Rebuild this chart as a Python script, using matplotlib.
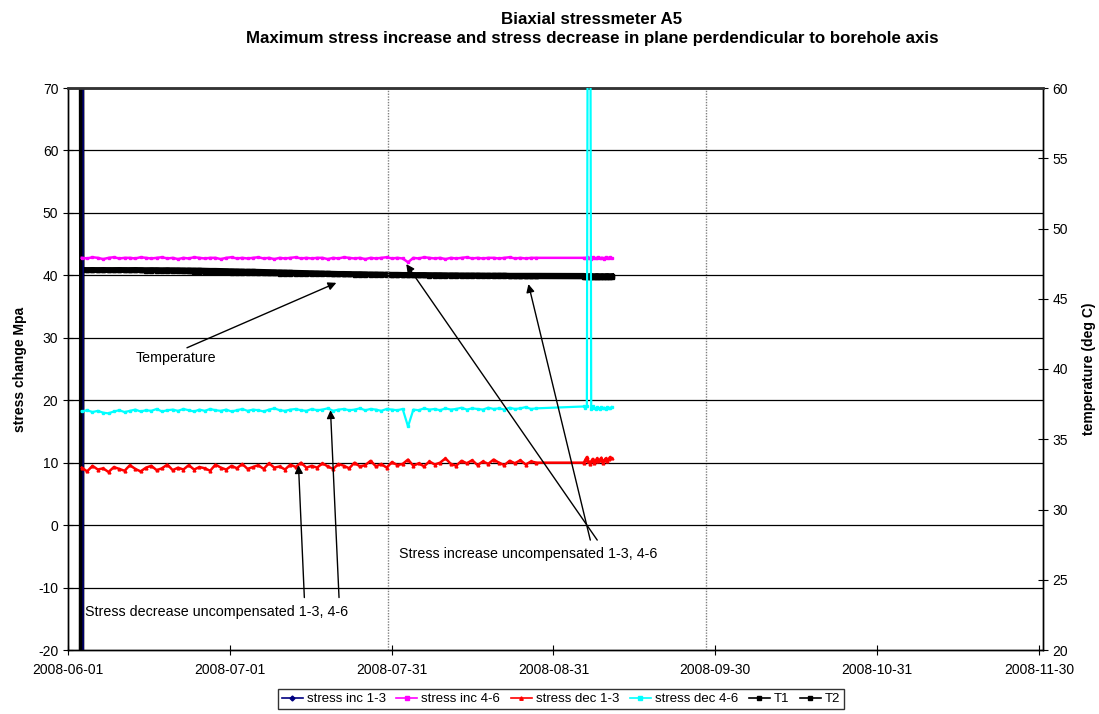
import numpy as np
import pandas as pd
import matplotlib
matplotlib.use("Agg")
import matplotlib.pyplot as plt
import matplotlib.dates as mdates

plt.rcParams['font.family'] = ['Liberation Sans', 'DejaVu Sans']
plt.rcParams['axes.unicode_minus'] = False

# ---------------- data ----------------
seg1_start, seg1_end = "2008-06-03 14:00", "2008-08-27 19:00"
seg2_start, seg2_end = "2008-09-05 17:00", "2008-09-10 21:00"

inc46_seg1 = [42.8,42.7,42.9,42.8,42.6,42.8,42.9,42.7,42.8,42.8,42.7,42.9,42.8,42.7,42.8,42.9,42.7,42.8,42.6,42.8,
              42.7,42.9,42.8,42.7,42.8,42.8,42.6,42.8,42.9,42.7,42.8,42.7,42.8,42.9,42.7,42.8,42.6,42.8,42.7,42.8,
              42.9,42.7,42.8,42.7,42.8,42.8,42.6,42.8,42.7,42.9,42.8,42.7,42.8,42.6,42.8,42.7,42.8,42.9,42.7,42.8,
              42.7,42.1,42.8,42.7,42.9,42.8,42.7,42.8,42.6,42.8,42.7,42.8,42.9,42.7,42.8,42.7,42.8,42.8,42.7,42.8,
              42.9,42.7,42.8,42.7,42.8,42.8]
inc46_seg2 = [42.8,42.7,42.9,42.7,42.8,42.6,42.9,42.8,42.7,42.8,42.9,42.7,42.8,42.8,42.6,42.9,42.7,42.8,42.9,42.7]

dec46_seg1 = [18.2,18.4,18.1,18.3,18.0,17.9,18.2,18.4,18.1,18.3,18.5,18.2,18.4,18.3,18.6,18.2,18.4,18.5,18.3,18.6,
              18.4,18.2,18.5,18.3,18.6,18.4,18.3,18.5,18.2,18.4,18.6,18.3,18.5,18.4,18.2,18.5,18.7,18.4,18.3,18.5,
              18.6,18.4,18.3,18.6,18.4,18.5,18.7,18.3,18.5,18.6,18.4,18.5,18.7,18.4,18.6,18.5,18.3,18.6,18.5,18.4,
              18.6,15.8,18.5,18.4,18.7,18.5,18.6,18.4,18.7,18.5,18.6,18.8,18.5,18.7,18.6,18.5,18.8,18.6,18.7,18.5,
              18.8,18.6,18.7,18.9,18.6,18.7]
dec46_seg2 = [19.0,18.8,19.1,130.0,130.0,18.6,19.0,18.8,18.6,18.9,18.7,18.6,18.9,18.7,18.8,18.6,18.9,18.8,18.7,18.9]

dec13_seg1 = [9.2,8.6,9.5,8.9,9.1,8.5,9.3,9.0,8.7,9.6,9.0,8.6,9.2,9.5,8.8,9.1,9.7,8.8,9.2,8.9,
              9.6,8.9,9.3,9.1,8.7,9.7,9.2,8.9,9.5,9.1,9.8,9.0,9.3,9.6,9.0,9.9,9.2,9.4,8.9,9.7,
              9.3,10.0,9.2,9.5,9.2,9.9,9.4,9.0,9.8,9.5,9.1,10.0,9.4,9.6,10.3,9.4,9.8,9.2,10.1,9.6,
              9.8,10.5,9.5,9.9,9.4,10.2,9.7,10.0,10.7,9.8,9.5,10.3,9.9,10.4,9.6,10.2,9.8,10.5,10.0,9.6,
              10.3,9.9,10.4,9.7,10.2,10.0]
dec13_seg2 = [10.0,10.5,10.9,10.3,9.8,10.2,10.6,9.9,10.3,10.7,10.2,10.5,10.8,9.9,10.4,10.7,10.2,10.6,10.9,10.7]

t1_seg1 = [47.06,47.05,47.06,47.05,47.06,47.05,47.05,47.06,47.05,47.05,47.06,47.05,47.04,47.05,47.05,47.04,47.05,47.04,47.04,47.03,
           47.03,47.02,47.02,47.01,47.00,47.00,46.99,46.98,46.97,46.96,46.95,46.94,46.94,46.93,46.92,46.91,46.90,46.89,46.88,46.87,
           46.86,46.85,46.84,46.83,46.82,46.81,46.80,46.79,46.78,46.78,46.77,46.76,46.76,46.75,46.74,46.74,46.73,46.73,46.72,46.72,
           46.71,46.71,46.70,46.70,46.70,46.69,46.69,46.69,46.68,46.68,46.68,46.67,46.67,46.67,46.67,46.66,46.66,46.66,46.66,46.66,
           46.65,46.65,46.65,46.65,46.65,46.65]
t2_seg1 = [47.04,47.03,47.04,47.03,47.04,47.03,47.03,47.04,47.03,47.02,47.03,47.02,47.01,47.01,47.00,46.99,46.98,46.97,46.96,46.95,
           46.94,46.93,46.92,46.91,46.90,46.89,46.88,46.87,46.86,46.85,46.84,46.83,46.82,46.81,46.81,46.80,46.80,46.79,46.79,46.78,
           46.78,46.77,46.77,46.76,46.76,46.75,46.75,46.74,46.74,46.73,46.73,46.72,46.72,46.71,46.71,46.70,46.70,46.69,46.69,46.68,
           46.68,46.67,46.67,46.66,46.66,46.65,46.65,46.64,46.64,46.63,46.63,46.62,46.62,46.62,46.61,46.61,46.61,46.60,46.60,46.60,
           46.60,46.60,46.59,46.59,46.59,46.59]
t1_seg2 = [46.64,46.62,46.63,46.61,46.62,46.63,46.62,46.61,46.62,46.63,46.62,46.61,46.62,46.62,46.61,46.62,46.63,46.62,46.61,46.62]
t2_seg2 = [46.58,46.57,46.58,46.56,46.57,46.58,46.57,46.56,46.57,46.58,46.57,46.56,46.57,46.57,46.56,46.57,46.58,46.57,46.56,46.57]

# initial off-scale readings at instrument start
start_time = "2008-06-03 12:00"
t1_start, t2_start = 0.0, 80.0
inc13_dates = ["2008-06-03 20:00", "2008-06-03 20:30"]
inc13_values = [-80.0, 150.0]

tick_labels = ["2008-06-01", "2008-07-01", "2008-07-31", "2008-08-31",
               "2008-09-30", "2008-10-31", "2008-11-30"]
marker_lines = ["2008-07-31", "2008-09-28 12:00"]

def series(v1, v2):
    d1 = pd.date_range(seg1_start, seg1_end, periods=len(v1))
    d2 = pd.date_range(seg2_start, seg2_end, periods=len(v2))
    return d1.append(d2), list(v1) + list(v2)

# ---------------- figure ----------------
fig = plt.figure(figsize=(10.99, 7.14), dpi=100)
ax = fig.add_axes([68/1099, 64/714, (1043-68)/1099, (650-88)/714])
ax2 = ax.twinx()

x0 = pd.Timestamp("2008-06-01")
xmax = pd.Timestamp("2008-11-30 18:00")

for m in marker_lines:
    ax.axvline(pd.Timestamp(m), color='#808080', lw=1.0, ls=(0, (1, 1)), zorder=1)
for yv in range(-10, 71, 10):
    ax.axhline(yv, color='black', lw=0.9, zorder=1)

ms = 2.0
l_inc13, = ax.plot(pd.to_datetime(inc13_dates), inc13_values, color='#000080', lw=1.0,
                   marker='D', ms=ms, zorder=2, label='stress inc 1-3')
d, v = series(inc46_seg1, inc46_seg2)
l_inc46, = ax.plot(d, v, color='#FF00FF', lw=1.8, marker='s', ms=ms, zorder=4, label='stress inc 4-6')
d, v = series(dec46_seg1, dec46_seg2)
l_dec46, = ax.plot(d, v, color='#00FFFF', lw=1.6, marker='s', ms=ms, zorder=4, label='stress dec 4-6')
d, v = series(dec13_seg1, dec13_seg2)
l_dec13, = ax.plot(d, v, color='#FF0000', lw=1.8, marker='^', ms=ms, zorder=4, label='stress dec 1-3')

d, v = series(t1_seg1, t1_seg2)
d = pd.DatetimeIndex([pd.Timestamp(start_time)]).append(d)
l_t1, = ax2.plot(d, [t1_start] + v, color='black', lw=4.0, marker='s', ms=3, zorder=5, label='T1')
d, v = series(t2_seg1, t2_seg2)
d = pd.DatetimeIndex([pd.Timestamp(start_time)]).append(d)
l_t2, = ax2.plot(d, [t2_start] + v, color='black', lw=4.0, marker='s', ms=3, zorder=5, label='T2')

ax.set_xlim(x0, xmax)
ax.set_ylim(-20, 70)
ax2.set_ylim(20, 60)
ax.set_yticks(range(-20, 71, 10))
ax2.set_yticks(range(20, 61, 5))
ticks = [x0 + pd.Timedelta(days=182 * i / 6) for i in range(7)]
ax.set_xticks(ticks)
ax.set_xticklabels(tick_labels)

for a in (ax, ax2):
    a.tick_params(direction='inout', length=7, width=0.8, labelsize=10)
    for s in a.spines.values():
        s.set_linewidth(1.0)
ax.tick_params(axis='x', pad=6)
ax.spines['top'].set_linewidth(2.0)
ax.spines['top'].set_color('#333333')

ax.set_ylabel('stress change Mpa', fontsize=10, fontweight='bold', labelpad=8)
ax2.set_ylabel('temperature (deg C)', fontsize=10, fontweight='bold', labelpad=10)

ax.set_zorder(ax2.get_zorder() + 1)
ax.patch.set_visible(False)

fig.text(592/1099, 1 - 19/714, 'Biaxial stressmeter A5', ha='center', va='center',
         fontsize=12.2, fontweight='bold')
fig.text(592/1099, 1 - 39/714,
         'Maximum stress increase and stress decrease in plane perdendicular to borehole axis',
         ha='center', va='center', fontsize=12.2, fontweight='bold')

def dt(days):
    return mdates.date2num(x0 + pd.Timedelta(days=days))

arrow = dict(arrowstyle='-|>', color='black', lw=1.0, mutation_scale=12, shrinkA=0, shrinkB=0)
ax.annotate('', xy=(dt(50.3), 38.8), xytext=(dt(22.3), 28.4), arrowprops=arrow, zorder=6)
ax.text(dt(12.6), 26.8, 'Temperature', fontsize=10.3, va='center', ha='left')
ax.annotate('', xy=(dt(63.4), 41.8), xytext=(dt(99.2), -2.4), arrowprops=arrow, zorder=6)
ax.annotate('', xy=(dt(86.3), 38.6), xytext=(dt(97.9), -2.4), arrowprops=arrow, zorder=6)
ax.text(dt(62.1), -4.7, 'Stress increase uncompensated 1-3, 4-6', fontsize=10.3, va='center', ha='left')
ax.annotate('', xy=(dt(43.2), 9.6), xytext=(dt(44.3), -11.6), arrowprops=arrow, zorder=6)
ax.annotate('', xy=(dt(49.2), 18.4), xytext=(dt(50.8), -11.6), arrowprops=arrow, zorder=6)
ax.text(dt(3.2), -13.9, 'Stress decrease uncompensated 1-3, 4-6', fontsize=10.3, va='center', ha='left')

handles = [l_inc13, l_inc46, l_dec13, l_dec46, l_t1, l_t2]
leg = fig.legend(handles, [h.get_label() for h in handles], loc='center',
                 bbox_to_anchor=(561/1099, 1 - 699/714), ncol=6, fontsize=9.5,
                 frameon=True, fancybox=False, edgecolor='black', handlelength=1.6,
                 handletextpad=0.3, columnspacing=0.8, borderpad=0.3, markerscale=1.0)
leg.get_frame().set_linewidth(1.0)
for h in leg.legend_handles:
    h.set_linewidth(1.2)
    h.set_markersize(2.5)

fig.savefig('out.png', dpi=100)
